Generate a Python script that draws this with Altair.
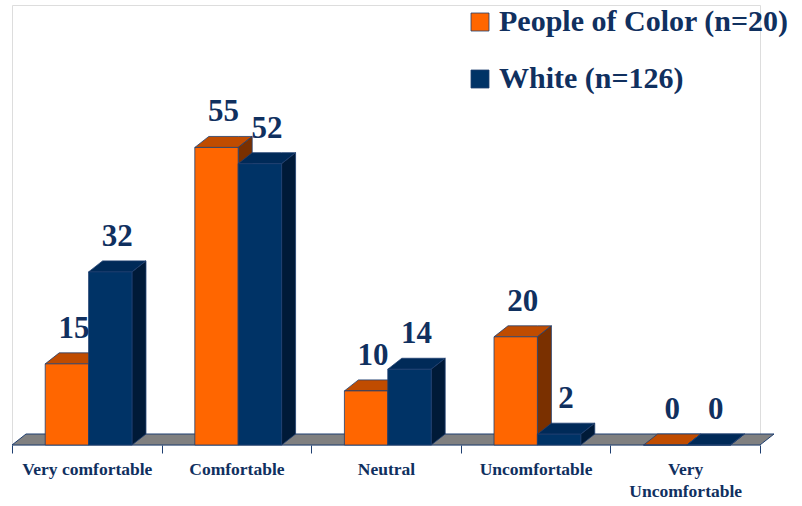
import json
import altair as alt
import pandas as pd

# ---- data ----
categories = ["Very comfortable", "Comfortable", "Neutral", "Uncomfortable", "Very Uncomfortable"]
category_lines = [["Very comfortable"], ["Comfortable"], ["Neutral"], ["Uncomfortable"], ["Very", "Uncomfortable"]]
series_names = ["People of Color (n=20)", "White (n=126)"]
people_of_color = [15, 55, 10, 20, 0]
white = [32, 52, 14, 2, 0]

# ---- styles ----
front_colors = ["#FF6600", "#003366"]
top_colors = ["#C04C00", "#002A58"]
side_colors = ["#7A3000", "#001A38"]
EDGE = "#1F3F70"
TEXT = "#10305F"
FONT = "Liberation Serif"

W, H = 748, 440
Y_MAX = H / 5.41           # value units covered by the plot height
GAP, BAR_W = 0.222, 0.29   # in category units
DX = 14 / (W / len(categories))   # 3-D depth, x (category units)
DV = 11 / 5.41                    # 3-D depth, y (value units)

faces, fronts, labels = [], [], []
for s, (name, vals) in enumerate(zip(series_names, [people_of_color, white])):
    for i, v in enumerate(vals):
        x0 = i + GAP + s * BAR_W
        x1 = x0 + BAR_W
        fid = f"{s}-{i}"
        for (px, y, y2) in [(x0, v, v), (x0 + DX, v, v + DV), (x1, v, v + DV), (x1 + DX, v + DV, v + DV)]:
            faces.append(dict(series=name, face=fid + "t", x=px, y=y, y2=y2, fill=top_colors[s]))
        for (px, y, y2) in [(x1, 0, v), (x1 + DX, DV, v + DV)]:
            faces.append(dict(series=name, face=fid + "s", x=px, y=y, y2=y2, fill=side_colors[s]))
        fronts.append(dict(series=name, x0=x0, x1=x1, y0=0, v=v))
        labels.append(dict(series=name, lx=x0 + BAR_W / 2 + DX / 2, ly=v + DV, v=v))

n = len(categories)
floor = pd.DataFrame(dict(x=[0, DX, n, n + DX], y=[0, 0, 0, DV], y2=[0, DV, DV, DV]))
faces = pd.DataFrame(faces)
fronts = pd.DataFrame(fronts)
labels = pd.DataFrame(labels)

xscale = alt.Scale(domain=[0, n], nice=False, zero=False)
yscale = alt.Scale(domain=[0, Y_MAX], nice=False, zero=True)

label_expr = ("datum.value % 1 === 0 ? '' : " + json.dumps(category_lines) + "[floor(datum.value)]")
xaxis = alt.Axis(
    values=[k / 2 for k in range(2 * n + 1)],
    labelExpr=label_expr, title=None, grid=False, domain=False,
    tickSize=8, tickColor=EDGE, tickWidth=1,
    tickOpacity={"condition": {"test": "datum.value % 1 !== 0", "value": 0}, "value": 1},
    labelFont=FONT, labelFontSize=17.5, labelFontWeight="bold", labelColor=TEXT,
    labelPadding=7, labelLineHeight=22, labelLimit=0, labelOverlap=False, labelFlush=False,
)

floor_layer = alt.Chart(floor).mark_area(fill="#808080", stroke=EDGE, strokeWidth=1).encode(
    x=alt.X("x:Q", scale=xscale, axis=xaxis),
    y=alt.Y("y:Q", scale=yscale, axis=None),
    y2="y2:Q",
)

legend = alt.Legend(
    title=None, orient="none", legendX=453, legendY=2, direction="vertical",
    symbolType="square", symbolSize=324, symbolStrokeWidth=0.8, symbolStrokeColor=EDGE,
    labelFont=FONT, labelFontSize=30, labelFontWeight="bold", labelColor=TEXT,
    labelOffset=4, rowPadding=27, labelLimit=0, padding=0,
)


def face_layer(name):
    return alt.Chart(faces[faces.series == name]).mark_area(stroke=EDGE, strokeWidth=0.8).encode(
        x=alt.X("x:Q", scale=xscale, axis=xaxis),
        y=alt.Y("y:Q", scale=yscale, axis=None),
        y2="y2:Q",
        fill=alt.Fill("fill:N", scale=None),
        detail="face:N",
    )


def front_layer(name):
    return alt.Chart(fronts[fronts.series == name]).mark_rect(stroke=EDGE, strokeWidth=0.8).encode(
        x=alt.X("x0:Q", scale=xscale, axis=xaxis),
        x2="x1:Q",
        y=alt.Y("y0:Q", scale=yscale, axis=None),
        y2="v:Q",
        color=alt.Color("series:N", scale=alt.Scale(domain=series_names, range=front_colors), legend=legend),
    )


text_layer = alt.Chart(labels).mark_text(
    font=FONT, fontSize=31, fontWeight="bold", color=TEXT, baseline="alphabetic", align="center", dy=-15
).encode(
    x=alt.X("lx:Q", scale=xscale, axis=xaxis),
    y=alt.Y("ly:Q", scale=yscale, axis=None),
    text="v:Q",
)

chart = alt.layer(
    floor_layer,
    face_layer(series_names[0]), front_layer(series_names[0]),
    face_layer(series_names[1]), front_layer(series_names[1]),
    text_layer,
).properties(
    width=W, height=H,
    padding={"left": 12, "top": 5, "right": 802 - 12 - W, "bottom": 506 - 5 - H},
    autosize=alt.AutoSizeParams(type="none"),
).configure_view(stroke="transparent", strokeWidth=0, strokeOpacity=0).configure(background="white")

chart.save("out.html", embed_options={"renderer": "svg", "actions": False})
